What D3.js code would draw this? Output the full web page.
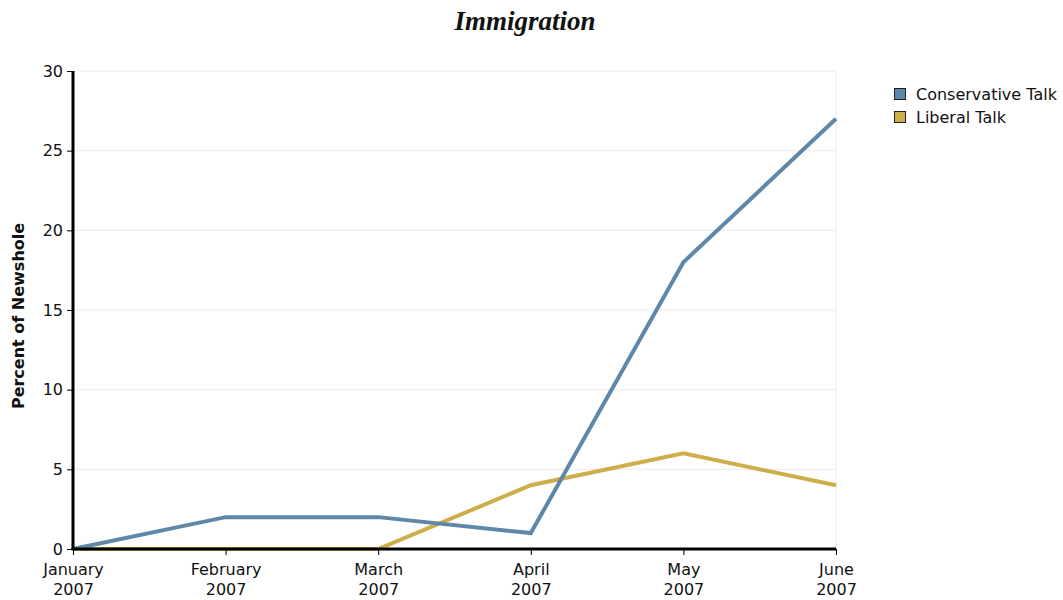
<!DOCTYPE html>
<html>
<head>
<meta charset="utf-8">
<script src="https://cdn.jsdelivr.net/npm/d3@7"></script>
<style>
  body { margin: 0; background: #fff; }
  svg text { font-family: Tahoma, "DejaVu Sans", sans-serif; }
</style>
</head>
<body>
<svg id="chart" width="1063" height="600"></svg>
<script>
// Monthly share of newshole devoted to immigration
const months = ["January|2007", "February|2007", "March|2007", "April|2007", "May|2007", "June|2007"];
const conservative = [0, 2, 2, 1, 18, 27];
const liberal = [0, 0, 0, 4, 6, 4];
const yTicks = [0, 5, 10, 15, 20, 25, 30];
const seriesNames = ["Conservative Talk", "Liberal Talk"];
const seriesColors = ["#5f88a8", "#cdae4a"];

const svg = d3.select("#chart");
const margin = { left: 73, right: 836, top: 71, bottom: 549 };

const x = d3.scalePoint().domain(months).range([margin.left, margin.right]);
const y = d3.scaleLinear().domain([0, 30]).range([margin.bottom, margin.top]);

// Title
svg.append("text")
  .attr("x", 525).attr("y", 30)
  .attr("text-anchor", "middle")
  .style("font-family", "'Liberation Serif', 'Times New Roman', serif")
  .style("font-weight", "bold").style("font-style", "italic")
  .style("font-size", "27px").attr("fill", "#111")
  .text("Immigration");

// Gridlines
svg.append("g").selectAll("line").data(yTicks.filter(d => d > 0)).join("line")
  .attr("x1", margin.left).attr("x2", margin.right)
  .attr("y1", d => y(d)).attr("y2", d => y(d))
  .attr("stroke", "#ebebeb").attr("stroke-width", 1);
svg.append("line")
  .attr("x1", margin.right).attr("x2", margin.right)
  .attr("y1", margin.top).attr("y2", margin.bottom)
  .attr("stroke", "#ebebeb");

// Lines: liberal first so conservative sits on top
const line = d3.line().x((d, i) => x(months[i])).y(d => y(d));
[liberal, conservative].forEach((vals, i) => {
  svg.append("path").datum(vals)
    .attr("d", line)
    .attr("fill", "none")
    .attr("stroke", seriesColors[1 - i])
    .attr("stroke-width", 4)
    .attr("stroke-linejoin", "miter");
});

// Y axis
const yAxis = svg.append("g")
  .attr("transform", `translate(${margin.left},0)`)
  .call(d3.axisLeft(y).tickValues(yTicks).tickSize(6).tickPadding(4));
yAxis.select(".domain").attr("stroke", "#000").attr("stroke-width", 3)
  .attr("d", `M0,${margin.top}V${margin.bottom + 1}`);
yAxis.selectAll(".tick line").attr("stroke", "#000").attr("stroke-width", 1);
yAxis.selectAll(".tick text").style("font-size", "16px").attr("fill", "#111");

// X axis
const xAxis = svg.append("g")
  .attr("transform", `translate(0,${margin.bottom})`)
  .call(d3.axisBottom(x).tickSize(6).tickPadding(9));
xAxis.select(".domain").attr("stroke", "#000").attr("stroke-width", 3)
  .attr("d", `M${margin.left - 1.5},0H${margin.right}`);
xAxis.selectAll(".tick line").attr("stroke", "#000").attr("stroke-width", 1);
xAxis.selectAll(".tick text").each(function (d) {
  const t = d3.select(this).text(null).style("font-size", "16px").attr("fill", "#111");
  d.split("|").forEach((part, k) => {
    t.append("tspan").attr("x", 0).attr("dy", k === 0 ? "0.71em" : "1.2em").text(part);
  });
});

// Y axis label
svg.append("text")
  .attr("transform", `translate(24,316) rotate(-90)`)
  .attr("text-anchor", "middle")
  .style("font-size", "16px").style("font-weight", "bold").attr("fill", "#111")
  .text("Percent of Newshole");

// Legend
const legend = svg.append("g").attr("transform", "translate(894,88)");
seriesNames.forEach((name, i) => {
  const g = legend.append("g").attr("transform", `translate(0,${i * 23})`);
  g.append("rect").attr("x", 0.5).attr("y", 0.5).attr("width", 11).attr("height", 11)
    .attr("fill", seriesColors[i]).attr("stroke", "#222").attr("stroke-width", 1);
  g.append("text").attr("x", 22).attr("y", 12)
    .style("font-size", "16px").attr("fill", "#111").text(name);
});
</script>
</body>
</html>
